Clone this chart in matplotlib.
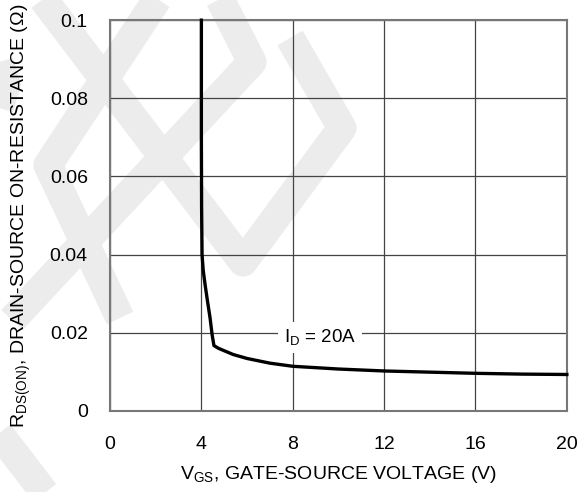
import numpy as np
import matplotlib.pyplot as plt

plt.rcParams['font.family'] = ['Liberation Sans', 'DejaVu Sans']
plt.rcParams['mathtext.fontset'] = 'custom'
plt.rcParams['mathtext.rm'] = 'Liberation Sans'

# curve (ID = 20A)
vgs = [4.0, 4.0, 4.01, 4.03, 4.08, 4.16, 4.27, 4.38, 4.47, 4.55, 4.75, 4.95, 5.4, 6.0, 7.0, 8.0, 10.0, 12.0, 14.0, 16.0, 18.0, 20.0]
rds = [0.100, 0.070, 0.052, 0.040, 0.036, 0.0324, 0.028, 0.0238, 0.0195, 0.0167, 0.0160, 0.0155, 0.0144, 0.0134, 0.0122, 0.0114, 0.0107, 0.0102, 0.0099, 0.0096, 0.0094, 0.0093]

x_ticks = [0, 4, 8, 12, 16, 20]
y_ticks = [0, 0.02, 0.04, 0.06, 0.08, 0.1]
y_ticklabels = ['0', '0.02', '0.04', '0.06', '0.08', '0.1']

fig = plt.figure(figsize=(5.82, 4.92), dpi=100)

# faint logo watermark behind the chart (pixel coords)
wm = fig.add_axes([0, 0, 1, 1], zorder=0)
wm.set_xlim(0, 582)
wm.set_ylim(492, 0)
wm.axis('off')
bands = [
    [(40, -5), (243, 262), (342, 128), (290, 38)],
    [(218, -5), (252, 62), (12, 320)],
    [(160, -5), (48, 165), (120, 318)],
    [(-20, 0), (6, 85), (-20, 170)],
    [(-15, 415), (50, 500)],
]
for b in bands:
    xs, ys = zip(*b)
    wm.plot(xs, ys, color='#ececec', lw=21, solid_capstyle='butt', solid_joinstyle='round')

ax = fig.add_axes([0.189, 0.165, 0.785, 0.794], zorder=1)
ax.patch.set_alpha(0)
ax.plot(vgs, rds, color='black', lw=2.4, zorder=3, clip_on=False)
ax.set_xlim(0, 20)
ax.set_ylim(0, 0.1)
ax.set_xticks(x_ticks)
ax.set_yticks(y_ticks)
ax.set_yticklabels(y_ticklabels)
ax.grid(True, color='#444444', lw=0.9)
ax.tick_params(length=0, labelsize=14)
ax.tick_params(axis='x', pad=18)
ax.tick_params(axis='y', pad=16)
for s in ax.spines.values():
    s.set_color('#777777')
    s.set_linewidth(1.5)

ax.text(9.2, 0.0175, r'I$_\mathregular{D}$ = 20A', fontsize=13.5, ha='center', va='baseline',
        bbox=dict(facecolor='white', edgecolor='none', pad=4), zorder=2)

ax.set_xlabel(r'V$_\mathregular{GS}$, GATE-SOURCE VOLTAGE (V)', fontsize=14, labelpad=8)
ax.set_ylabel(r'R$_\mathregular{DS(ON)}$, DRAIN-SOURCE ON-RESISTANCE ($\Omega$)', fontsize=14, labelpad=12)

fig.savefig('out.png', dpi=100)
